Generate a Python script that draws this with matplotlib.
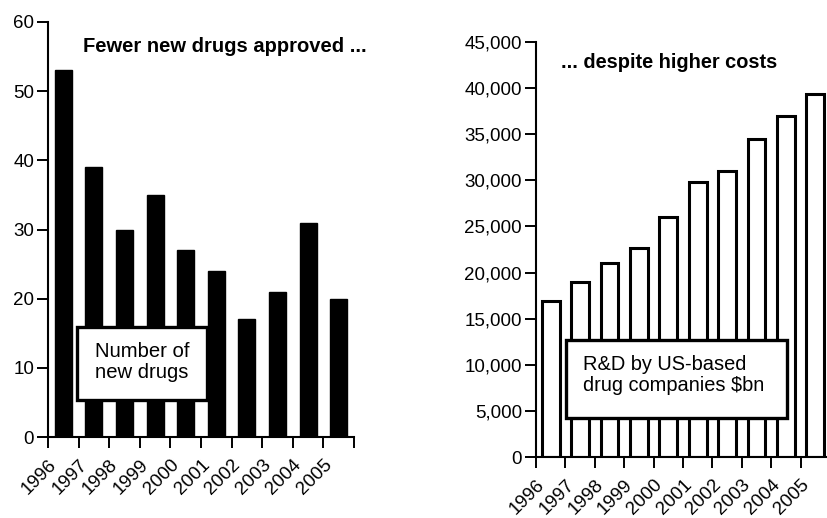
import matplotlib
matplotlib.use("Agg")
import matplotlib.pyplot as plt
from matplotlib.patches import Rectangle
from matplotlib.ticker import FuncFormatter

plt.rcParams['font.family'] = ['Liberation Sans', 'DejaVu Sans']

years = ['1996', '1997', '1998', '1999', '2000', '2001', '2002', '2003', '2004', '2005']
new_drugs = [53, 39, 30, 35, 27, 24, 17, 21, 31, 20]
rd_spend = [16900, 19000, 21000, 22700, 26000, 29800, 31000, 34500, 37000, 39400]

W, H = 828, 518
fig = plt.figure(figsize=(W / 100, H / 100), dpi=100)
fig.patch.set_facecolor('white')


def px_rect(x0, y0, x1, y1):
    """Figure-fraction rectangle from pixel corners (top-left origin)."""
    return [x0 / W, 1 - y1 / H, (x1 - x0) / W, (y1 - y0) / H]


def style_axes(ax, ymax, step):
    for side in ('top', 'right'):
        ax.spines[side].set_visible(False)
    for side in ('left', 'bottom'):
        ax.spines[side].set_linewidth(1.5)
    ax.set_xlim(-0.5, len(years) - 0.5)
    ax.set_ylim(0, ymax)
    ax.set_yticks(range(0, ymax + 1, step))
    ax.set_xticks([i - 0.5 for i in range(len(years) + 1)])
    ax.set_xticklabels(years + [''], rotation=45, ha='right', va='top',
                       rotation_mode='anchor', fontsize=13.5)
    ax.tick_params(axis='both', direction='out', length=8, width=1.4,
                   labelsize=13.5, color='black')
    ax.tick_params(axis='x', pad=6)
    ax.tick_params(axis='y', pad=2)


# Left panel: number of new drugs approved
ax1 = fig.add_axes(px_rect(48, 22, 354, 437))
x = range(len(years))
ax1.bar(x, new_drugs, width=0.56, color='black', edgecolor='black')
style_axes(ax1, 60, 10)
fig.text(83 / W, 1 - 47 / H, 'Fewer new drugs approved ...', fontsize=14.5,
         fontweight='bold', ha='left', va='center')

box1 = Rectangle((77 / W, 1 - 400 / H), 130 / W, 73 / H, transform=fig.transFigure,
                 facecolor='white', edgecolor='black', linewidth=2.4, zorder=5)
fig.add_artist(box1)
fig.text(142 / W, 1 - 362 / H, 'Number of\nnew drugs', fontsize=14.6,
         ha='center', va='center', linespacing=1.15, zorder=6)

# Right panel: R&D spending
ax2 = fig.add_axes(px_rect(536, 42, 830, 457))
ax2.bar(x, rd_spend, width=0.6, color='white', edgecolor='black', linewidth=2.2)
style_axes(ax2, 45000, 5000)
ax2.yaxis.set_major_formatter(FuncFormatter(lambda v, p: f'{int(v):,}'))
fig.text(561 / W, 1 - 62 / H, '... despite higher costs', fontsize=14.4,
         fontweight='bold', ha='left', va='center')

box2 = Rectangle((566 / W, 1 - 418 / H), 221 / W, 78 / H, transform=fig.transFigure,
                 facecolor='white', edgecolor='black', linewidth=2.4, zorder=5)
fig.add_artist(box2)
fig.text(583 / W, 1 - 375 / H, 'R&D by US-based\ndrug companies $bn', fontsize=14.4,
         ha='left', va='center', linespacing=1.15, zorder=6)

fig.savefig('out.png', dpi=100)
